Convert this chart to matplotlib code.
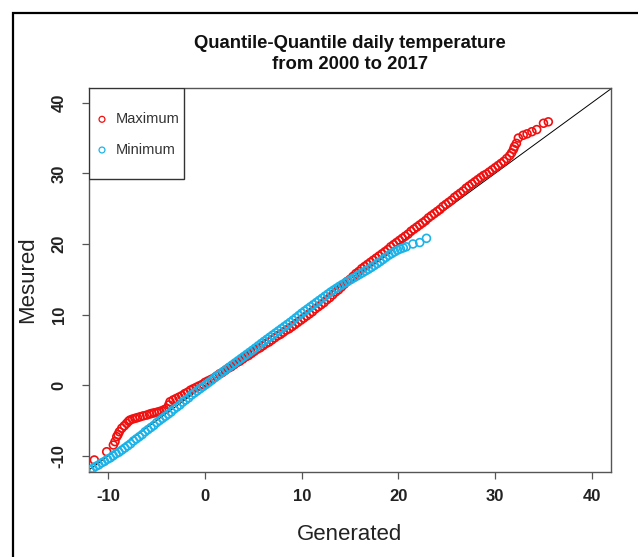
import matplotlib
matplotlib.use("Agg")
import matplotlib.pyplot as plt
from matplotlib.patches import Rectangle

plt.rcParams['font.family'] = ['Liberation Sans', 'DejaVu Sans']

# ---------------- data ----------------
title = "Quantile-Quantile daily temperature\nfrom 2000 to 2017"
x_label = "Generated"
y_label = "Mesured"
series_names = ["Maximum", "Minimum"]
tick_values = [-10, 0, 10, 20, 30, 40]

# Maximum: generated quantiles (x) vs measured quantiles (y)
max_x = [-11.45, -10.17, -9.48, -9.31, -9.13, -9.0, -8.86, -8.61, -8.35, -8.1,
         -7.9, -7.76, -7.5, -7.24, -7.0, -6.72, -6.4, -6.03, -5.75, -5.51,
         -5.25, -5.0, -4.75, -4.48, -4.2, -3.96, -3.75, -3.62,
         -3.3, -3.0, -2.7, -2.4, -2.1, -1.8, -1.5, -1.2, -0.9, -0.6,
         -0.3, 0.0, 0.3, 0.6, 0.9, 1.2, 1.5, 1.8, 2.1, 2.4,
         2.7, 3.0, 3.3, 3.6, 3.9, 4.2, 4.5, 4.8, 5.1, 5.4,
         5.7, 6.0, 6.3, 6.6, 6.9, 7.2, 7.5, 7.8, 8.1, 8.4,
         8.7, 9.0, 9.3, 9.6, 9.9, 10.2, 10.5, 10.8, 11.1, 11.4,
         11.7, 12.0, 12.3, 12.6, 12.9, 13.2, 13.5, 13.8, 14.1, 14.4,
         14.7, 15.0, 15.3, 15.6, 15.9, 16.2, 16.5, 16.8, 17.1, 17.4,
         17.7, 18.0, 18.3, 18.6, 18.9, 19.2, 19.5, 19.8, 20.1, 20.4,
         20.7, 21.0, 21.3, 21.6, 21.9, 22.2, 22.5, 22.8, 23.1, 23.4,
         23.7, 24.0, 24.3, 24.6, 24.9, 25.2, 25.5, 25.8, 26.1, 26.4,
         26.7, 27.0, 27.3, 27.6, 27.9, 28.2, 28.5, 28.8, 29.1, 29.4,
         29.7, 30.0, 30.3, 30.6, 30.9, 31.2, 31.5,
         31.7, 31.9, 32.0, 32.2, 32.4, 32.9, 33.3, 33.8, 34.3, 35.0, 35.5]
max_y = [-10.6, -9.43, -8.48, -8.0, -7.3, -7.0, -6.6, -6.1, -5.75, -5.4,
         -5.1, -4.94, -4.8, -4.7, -4.6, -4.48, -4.35, -4.24, -4.1, -4.0,
         -3.92, -3.85, -3.75, -3.63, -3.45, -3.3, -2.8, -2.35,
         -2.1, -1.9, -1.7, -1.5, -1.2, -1.0, -0.7, -0.5, -0.3, -0.1,
         0.1, 0.4, 0.6, 0.8, 1.0, 1.3, 1.6, 1.8, 2.1, 2.4,
         2.6, 2.9, 3.2, 3.4, 3.7, 4.0, 4.2, 4.5, 4.8, 5.1,
         5.3, 5.6, 5.9, 6.1, 6.4, 6.7, 7.0, 7.2, 7.5, 7.8,
         8.0, 8.3, 8.6, 8.9, 9.2, 9.5, 9.8, 10.1, 10.4, 10.8,
         11.1, 11.4, 11.7, 12.1, 12.4, 12.8, 13.2, 13.5, 13.9, 14.3,
         14.7, 15.0, 15.4, 15.8, 16.1, 16.5, 16.8, 17.1, 17.4, 17.7,
         18.0, 18.3, 18.6, 18.9, 19.2, 19.6, 19.9, 20.2, 20.5, 20.8,
         21.1, 21.4, 21.8, 22.1, 22.4, 22.7, 23.0, 23.3, 23.7, 24.0,
         24.3, 24.6, 24.9, 25.3, 25.6, 25.9, 26.2, 26.6, 26.9, 27.2,
         27.5, 27.9, 28.2, 28.5, 28.8, 29.1, 29.4, 29.7, 29.9, 30.2,
         30.5, 30.8, 31.1, 31.4, 31.7, 32.1, 32.5,
         32.9, 33.4, 33.8, 34.25, 35.0, 35.4, 35.6, 35.9, 36.2, 37.1, 37.3]

# Minimum: generated quantiles (x) vs measured quantiles (y)
min_x = [-11.9, -11.6, -11.3, -11.0, -10.7, -10.4, -10.1, -9.8, -9.5, -9.2,
         -8.9, -8.6, -8.3, -8.0, -7.7, -7.4, -7.1, -6.8, -6.5, -6.2,
         -5.9, -5.6, -5.3, -5.0, -4.7, -4.4, -4.1, -3.8, -3.5, -3.2,
         -2.9, -2.6, -2.3, -2.0, -1.7, -1.4, -1.1, -0.8, -0.5, -0.2,
         0.1, 0.4, 0.7, 1.0, 1.3, 1.6, 1.9, 2.2, 2.5, 2.8,
         3.1, 3.4, 3.7, 4.0, 4.3, 4.6, 4.9, 5.2, 5.5, 5.8,
         6.1, 6.4, 6.7, 7.0, 7.3, 7.6, 7.9, 8.2, 8.5, 8.8,
         9.1, 9.4, 9.7, 10.0, 10.3, 10.6, 10.9, 11.2, 11.5, 11.8,
         12.1, 12.4, 12.7, 13.0, 13.3, 13.6, 13.9, 14.2, 14.5, 14.8,
         15.1, 15.4, 15.7, 16.0, 16.3, 16.6, 16.9, 17.2, 17.5, 17.8,
         18.1, 18.4, 18.7, 19.0, 19.3, 19.6, 19.9, 20.2, 20.5, 20.8,
         21.5, 22.2, 22.9]
min_y = [-12.0, -11.8, -11.5, -11.3, -11.0, -10.8, -10.5, -10.3, -10.0, -9.7,
         -9.5, -9.2, -8.9, -8.6, -8.3, -7.9, -7.6, -7.3, -7.0, -6.6,
         -6.3, -6.0, -5.7, -5.3, -5.0, -4.7, -4.4, -4.1, -3.8, -3.4,
         -3.1, -2.8, -2.4, -2.1, -1.8, -1.4, -1.1, -0.8, -0.5, -0.2,
         0.1, 0.4, 0.7, 1.05, 1.35, 1.65, 1.95, 2.25, 2.55, 2.85,
         3.15, 3.45, 3.75, 4.05, 4.35, 4.65, 4.95, 5.26, 5.58, 5.89,
         6.2, 6.5, 6.8, 7.1, 7.4, 7.7, 8.0, 8.3, 8.6, 8.9,
         9.21, 9.54, 9.87, 10.2, 10.5, 10.8, 11.1, 11.4, 11.7, 12.0,
         12.3, 12.6, 12.9, 13.2, 13.47, 13.74, 14.01, 14.26, 14.5, 14.74,
         14.98, 15.22, 15.46, 15.7, 15.94, 16.18, 16.42, 16.68, 16.95, 17.22,
         17.5, 17.8, 18.1, 18.4, 18.64, 18.88, 19.12, 19.3, 19.45, 19.6,
         20.0, 20.2, 20.8]

max_color = "#F01010"
min_color = "#1CB3E9"

# ---------------- figure ----------------
W, H = 638, 557
fig = plt.figure(figsize=(W / 100, H / 100), dpi=100)
fig.patch.set_facecolor("white")

# outer frame of the screenshot
fig.patches.append(Rectangle((12.5 / W, -0.2), 1.5, 1.2 - 12.5 / H,
                             transform=fig.transFigure, fill=False,
                             lw=1.6, ec="black"))

ax_l, ax_r, ax_t, ax_b = 89, 610.7, 88.3, 472
ax = fig.add_axes([ax_l / W, 1 - ax_b / H, (ax_r - ax_l) / W, (ax_b - ax_t) / H])

ax.axline((0, 0), slope=1, color="black", lw=0.7, zorder=2)
ax.scatter(max_x, max_y, s=32, facecolors="none", edgecolors=max_color,
           linewidths=1.2, zorder=3)
ax.scatter(min_x, min_y, s=32, facecolors="none", edgecolors=min_color,
           linewidths=1.2, zorder=4)

ax.set_xlim(-12.0, 41.95)
ax.set_ylim(-12.3, 42.05)
ax.set_xticks(tick_values)
ax.set_yticks(tick_values)
ax.set_xticklabels([str(v) for v in tick_values], fontsize=12, fontweight="bold",
                   color="#222222")
ax.set_yticklabels([str(v) for v in tick_values], fontsize=12, fontweight="bold",
                   color="#222222", rotation=90, va="center")

for sp in ax.spines.values():
    sp.set_color("#555555")
    sp.set_linewidth(1.0)
ax.tick_params(direction="out", length=5, width=0.9, color="#555555")
ax.tick_params(axis="x", pad=7)
ax.tick_params(axis="y", pad=11)

ax.set_xlabel(x_label, fontsize=16, color="#222222")
ax.xaxis.set_label_coords(0.5, (ax_b - 535) / (ax_b - ax_t))
ax.xaxis.label.set_va("center")
ax.set_ylabel(y_label, fontsize=16, color="#222222")
ax.yaxis.set_label_coords((28 - ax_l) / (ax_r - ax_l), 0.5)
ax.yaxis.label.set_va("center")

fig.text((ax_l + ax_r) / 2 / W, 1 - 54 / H, title, ha="center", va="center",
         fontsize=13.3, fontweight="bold", linespacing=1.3, color="#111111")

# legend box (manual, top-left corner of the plot region)
aw, ah = ax_r - ax_l, ax_b - ax_t
leg_w = (184.3 - ax_l) / aw
leg_h = (179.3 - ax_t) / ah
ax.add_patch(Rectangle((0, 1 - leg_h), leg_w, leg_h, transform=ax.transAxes,
                       fill=True, fc="white", ec="#333333", lw=1.0, zorder=6))
rows_y = [(ax_b - 119.3) / ah, (ax_b - 150) / ah]
for name, col, ry in zip(series_names, [max_color, min_color], rows_y):
    ax.scatter([(102 - ax_l) / aw], [ry], s=18, facecolors="none",
               edgecolors=col, linewidths=0.9, transform=ax.transAxes,
               zorder=7, clip_on=False)
    ax.text((116 - ax_l) / aw, ry, name, transform=ax.transAxes, fontsize=10.5,
            va="center", ha="left", color="#333333", zorder=7)

fig.savefig("out.png", dpi=100)
